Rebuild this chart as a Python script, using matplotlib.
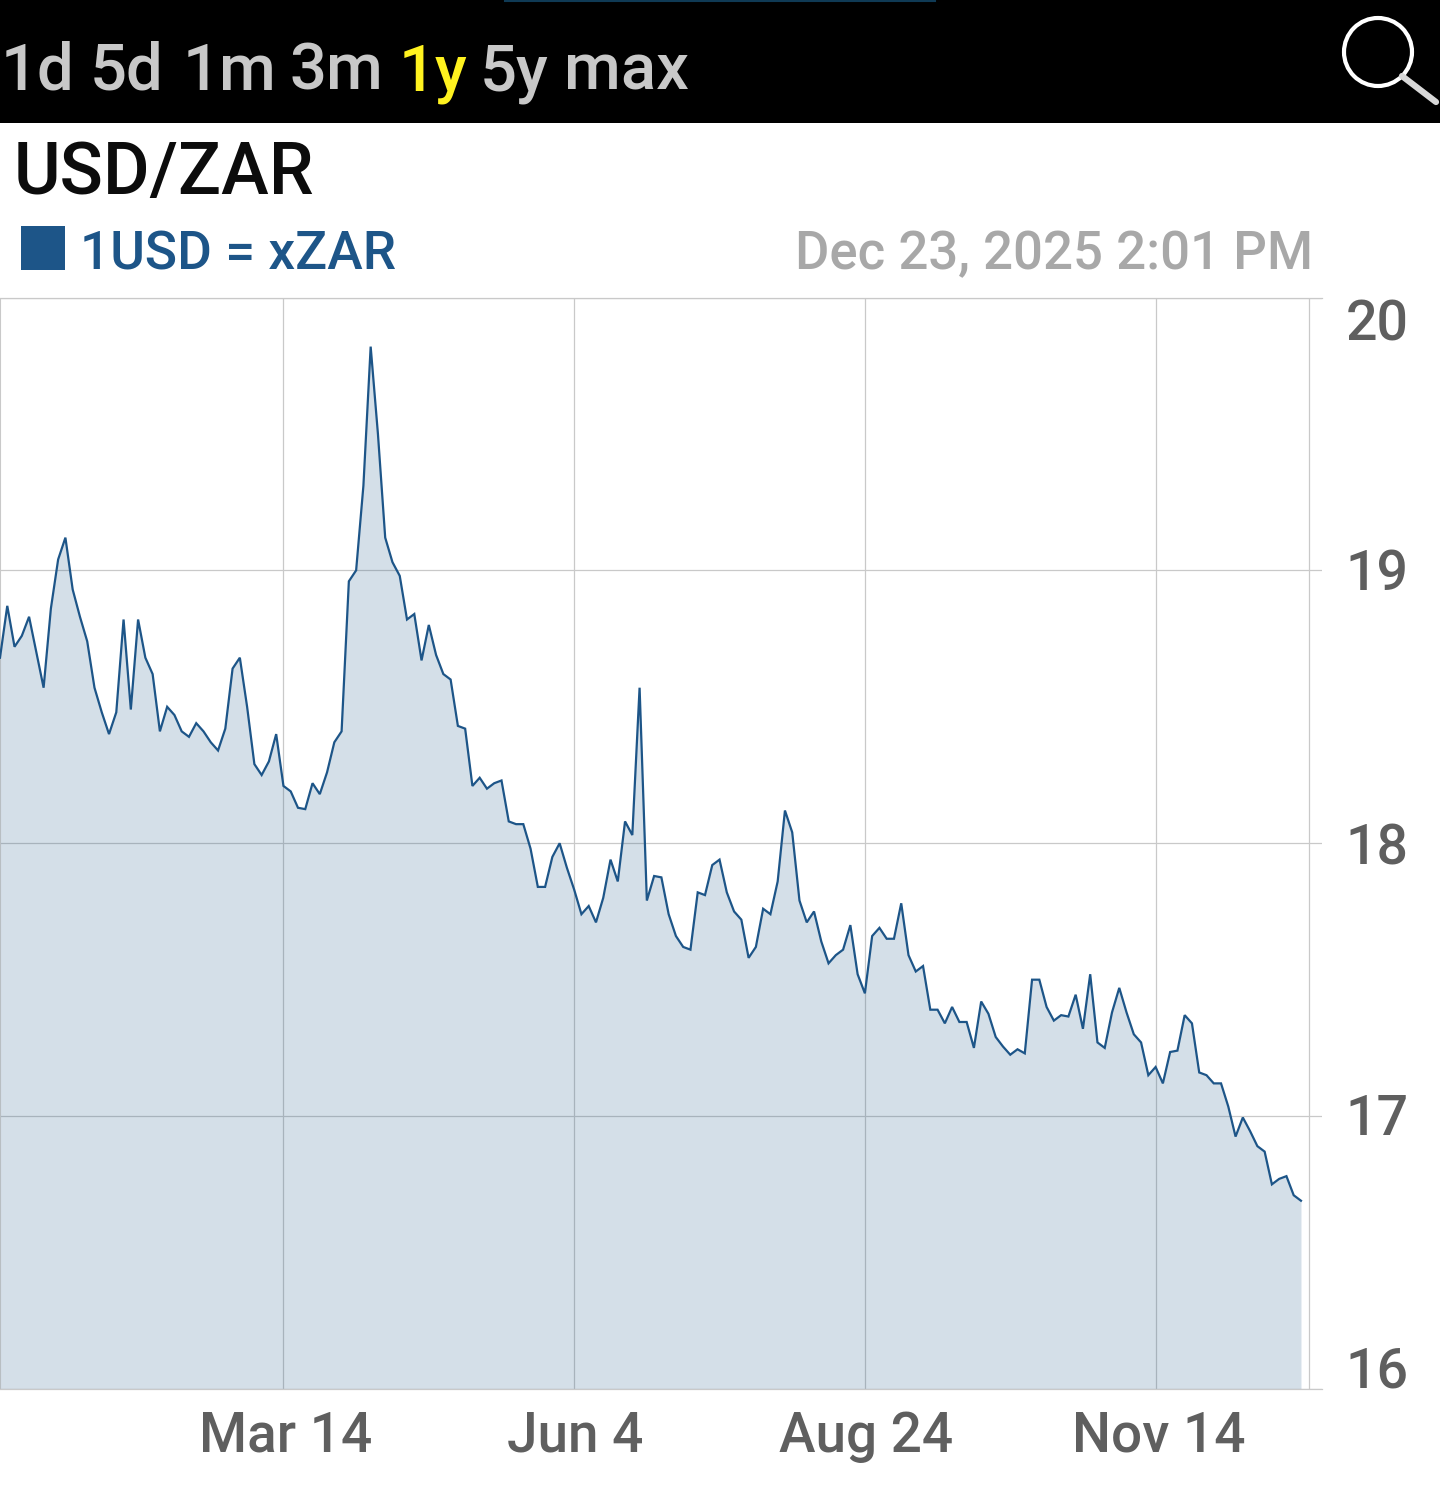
import matplotlib
matplotlib.use("Agg")
import matplotlib.pyplot as plt
from matplotlib.patches import Rectangle, Circle
from matplotlib.transforms import Affine2D

plt.rcParams['font.family'] = ['Roboto', 'DejaVu Sans']

# ---- data ----
usd_zar = [
    18.68, 18.87, 18.72, 18.76, 18.83, 18.70, 18.57, 18.86, 19.04, 19.12,
    18.93, 18.83, 18.74, 18.57, 18.48, 18.40, 18.48, 18.82, 18.49, 18.82,
    18.68, 18.62, 18.41, 18.50, 18.47, 18.41, 18.39, 18.44, 18.41, 18.37,
    18.34, 18.42, 18.64, 18.68, 18.50, 18.29, 18.25, 18.30, 18.40, 18.21,
    18.19, 18.13, 18.125, 18.22, 18.18, 18.26, 18.37, 18.41, 18.96, 19.00,
    19.31, 19.82, 19.50, 19.12, 19.03, 18.98, 18.82, 18.84, 18.67, 18.80,
    18.69, 18.62, 18.60, 18.43, 18.42, 18.21, 18.24, 18.20, 18.22, 18.23,
    18.08, 18.07, 18.07, 17.98, 17.84, 17.84, 17.95, 18.00, 17.91, 17.83,
    17.74, 17.77, 17.71, 17.80, 17.94, 17.86, 18.08, 18.03, 18.57, 17.79,
    17.88, 17.875, 17.74, 17.66, 17.62, 17.61, 17.82, 17.81, 17.92, 17.94,
    17.82, 17.75, 17.72, 17.58, 17.62, 17.76, 17.74, 17.86, 18.12, 18.04,
    17.79, 17.71, 17.75, 17.64, 17.56, 17.59, 17.61, 17.70, 17.52, 17.45,
    17.66, 17.69, 17.65, 17.65, 17.78, 17.59, 17.53, 17.55, 17.39, 17.39,
    17.34, 17.40, 17.345, 17.345, 17.25, 17.42, 17.375, 17.29, 17.255, 17.225,
    17.245, 17.23, 17.50, 17.50, 17.40, 17.35, 17.37, 17.365, 17.445, 17.32,
    17.52, 17.27, 17.25, 17.38, 17.47, 17.38, 17.30, 17.27, 17.15, 17.18,
    17.12, 17.235, 17.24, 17.37, 17.34, 17.16, 17.15, 17.12, 17.12, 17.035,
    16.925, 16.995, 16.945, 16.89, 16.87, 16.75, 16.77, 16.78, 16.71, 16.69,
]
x_tick_index = [39, 79, 119, 159]
x_tick_labels = ['Mar 14', 'Jun 4', 'Aug 24', 'Nov 14']
y_ticks = [16, 17, 18, 19, 20]
y_tick_labels = ['16', '17', '18', '19', '20']
range_labels = ['1d', '5d', '1m', '3m', '1y', '5y', 'max']
title = 'USD/ZAR'
legend_label = '1USD = xZAR'
timestamp = 'Dec 23, 2025 2:01 PM'

# ---- style ----
W, H = 1440, 1510
LINE = '#1d5588'
GRID = '#c9c9c9'
TICK = '#5f5f5f'
STEP = 7.268
fig = plt.figure(figsize=(W / 100, H / 100), dpi=100, facecolor='white')

# main chart
L, R, T, B = 0, 1322, 297.5, 1389
ax = fig.add_axes([L / W, 1 - B / H, (R - L) / W, (B - T) / H])
xs = list(range(len(usd_zar)))
ax.set_xlim(0, (R - L) / STEP)
ax.set_ylim(16, 20)
ax.set_xticks(x_tick_index, x_tick_labels)
ax.set_yticks(y_ticks, y_tick_labels)
ax.yaxis.tick_right()
ax.grid(True, color=GRID, lw=0.9, zorder=1)
ax.set_axisbelow(True)
ax.axvline(1309 / STEP, color=GRID, lw=0.9, zorder=1)
ax.axvline(0.05, color=GRID, lw=1.5, zorder=1)
ax.fill_between(xs, usd_zar, 16, color=LINE, alpha=0.19, lw=0, zorder=2)
ax.plot(xs, usd_zar, color=LINE, lw=1.6, zorder=3, solid_joinstyle='miter')
for s in ['left', 'right']:
    ax.spines[s].set_visible(False)
for s in ['top', 'bottom']:
    ax.spines[s].set_color(GRID)
    ax.spines[s].set_linewidth(0.9)
ax.tick_params(axis='both', length=0, labelsize=40, labelcolor=TICK)
ax.tick_params(axis='x', pad=15, labelsize=39.5)
ax.tick_params(axis='y', pad=17)
for lab in ax.get_xticklabels() + ax.get_yticklabels():
    lab.set_fontweight('medium')
y_offsets = {'20': -22, '19': 1, '18': 0, '17': 2, '16': 23}
for lab in ax.get_yticklabels():
    lab.set_transform(lab.get_transform() + Affine2D().translate(0, y_offsets[lab.get_text()]))
x_offsets = {'Mar 14': 2, 'Jun 4': 1, 'Aug 24': 1, 'Nov 14': 3}
for lab in ax.get_xticklabels():
    lab.set_transform(lab.get_transform() + Affine2D().translate(x_offsets[lab.get_text()], 0))

# page furniture in pixel coordinates
ov = fig.add_axes([0, 0, 1, 1], facecolor='none')
ov.set_xlim(0, W)
ov.set_ylim(H, 0)
ov.axis('off')
ov.add_patch(Rectangle((0, 0), W, 123, color='black', lw=0))
ov.plot([505, 935], [0.5, 0.5], color='#0f3a55', lw=1.5)
range_x = [1, 90, 183, 289, 399, 480, 564]
for txt, x in zip(range_labels, range_x):
    ov.text(x, 90, txt, fontsize=47, color='#fff21f' if txt == '1y' else '#c8c8c8',
            fontweight='medium', ha='left', va='baseline')
ov.add_patch(Circle((1378, 52), 34, fill=False, ec='white', lw=3))
ov.plot([1402, 1436], [76, 102], color='#d8d8d8', lw=4.5, solid_capstyle='round')
ov.text(14, 194, title, fontsize=51.5, color='#0c0c0c', fontweight='medium', ha='left', va='baseline')
ov.add_patch(Rectangle((21, 226), 44, 44, color=LINE, lw=0))
ov.text(80, 270, legend_label, fontsize=38.3, color=LINE, fontweight='medium', ha='left', va='baseline')
ov.text(1313, 269, timestamp, fontsize=38, color='#a8a8a8', fontweight='medium', ha='right', va='baseline')

fig.savefig('out.png', dpi=100, facecolor='white')
